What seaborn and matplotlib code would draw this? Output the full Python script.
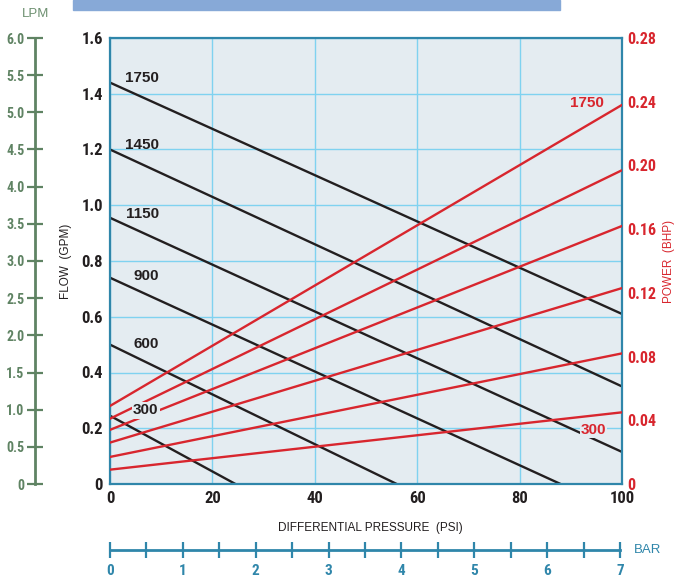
import numpy as np
import pandas as pd
import matplotlib
matplotlib.use("Agg")
import matplotlib.pyplot as plt
import seaborn as sns
from matplotlib.patches import Rectangle
from matplotlib.ticker import MultipleLocator

# pump speeds (RPM)
speeds = [1750, 1450, 1150, 900, 600, 300]

# flow curves: pressure (PSI) and flow (GPM) endpoints
flow_psi = [[0, 100], [0, 100], [0, 100], [0, 88], [0, 56], [0, 24.5]]
flow_gpm = [[1.44, 0.61], [1.20, 0.35], [0.955, 0.115], [0.74, 0.0], [0.50, 0.0], [0.245, 0.0]]

# power curves: BHP at 0 and 100 PSI
power_psi = [0, 100]
power_at_0 = [0.049, 0.041, 0.034, 0.026, 0.017, 0.009]
power_at_100 = [0.238, 0.197, 0.162, 0.123, 0.082, 0.045]

# where the speed labels sit (GPM)
label_gpm = [1.456, 1.216, 0.969, 0.746, 0.502, 0.265]

psi_ticks = [0, 20, 40, 60, 80, 100]
gpm_ticks = [0, 0.2, 0.4, 0.6, 0.8, 1.0, 1.2, 1.4, 1.6]
gpm_labels = ['0', '0.2', '0.4', '0.6', '0.8', '1.0', '1.2', '1.4', '1.6']
bhp_ticks = [0, 0.04, 0.08, 0.12, 0.16, 0.20, 0.24, 0.28]
bhp_labels = ['0', '0.04', '0.08', '0.12', '0.16', '0.20', '0.24', '0.28']
lpm_ticks = [0, 0.5, 1.0, 1.5, 2.0, 2.5, 3.0, 3.5, 4.0, 4.5, 5.0, 5.5, 6.0]
lpm_labels = ['0', '0.5', '1.0', '1.5', '2.0', '2.5', '3.0', '3.5', '4.0', '4.5', '5.0', '5.5', '6.0']
bar_ticks = [0, 1, 2, 3, 4, 5, 6, 7]

RED = '#d8262e'
BLACK = '#231f20'
GREEN = '#5f8363'
TEAL = '#2f86aa'
FACE = '#e4ecf1'
GRID = '#7fd2f0'

sns.set_style("white")
COND = ['Roboto Condensed', 'Liberation Sans Narrow', 'Liberation Sans']
SANS = ['Liberation Sans', 'DejaVu Sans']
plt.rcParams['font.family'] = SANS


def style_ticks(labels, size):
    for lab in labels:
        lab.set_fontfamily(COND)
        lab.set_fontweight('bold')
        lab.set_fontsize(size)


flow_df = pd.DataFrame([
    {'speed': s, 'psi': p, 'gpm': g}
    for s, ps, gs in zip(speeds, flow_psi, flow_gpm)
    for p, g in zip(ps, gs)
])
power_df = pd.DataFrame([
    {'speed': s, 'psi': p, 'bhp': b}
    for s, b0, b1 in zip(speeds, power_at_0, power_at_100)
    for p, b in zip(power_psi, [b0, b1])
])

W, H = 674, 578
fig = plt.figure(figsize=(W / 100, H / 100), dpi=100)

# cropped title band at the top
fig.patches.append(Rectangle((73 / W, 1 - 10 / H), (560 - 73) / W, 10 / H,
                             transform=fig.transFigure, color='#87a9d7', zorder=0))

ax = fig.add_axes([110 / W, 94 / H, 512 / W, 446 / H])
ax.set_facecolor(FACE)
sns.lineplot(data=flow_df, x='psi', y='gpm', units='speed', estimator=None,
             color=BLACK, linewidth=1.7, ax=ax, legend=False)
ax.set_xlim(0, 100)
ax.set_ylim(0, 1.6)
ax.set_xticks(psi_ticks)
ax.set_yticks(gpm_ticks)
ax.set_yticklabels(gpm_labels)
ax.grid(True, color=GRID, linewidth=1.0)
ax.set_axisbelow(True)
ax.tick_params(axis='both', length=0, pad=5, colors=BLACK)
style_ticks(ax.get_xticklabels() + ax.get_yticklabels(), 12)
for sp in ax.spines.values():
    sp.set_color(TEAL)
    sp.set_linewidth(1.6)
ax.set_xlabel('DIFFERENTIAL PRESSURE  (PSI)', fontsize=8.5, color=BLACK)
ax.xaxis.set_label_coords(0.508, -0.085)
ax.set_ylabel('FLOW  (GPM)', fontsize=8.5, color=BLACK)
ax.yaxis.set_label_coords(-0.074, 0.5)

ax2 = ax.twinx()
sns.lineplot(data=power_df, x='psi', y='bhp', units='speed', estimator=None,
             color=RED, linewidth=1.7, ax=ax2, legend=False)
ax2.set_ylim(0, 0.28)
ax2.set_yticks(bhp_ticks)
ax2.set_yticklabels(bhp_labels)
ax2.tick_params(axis='y', length=0, pad=4, colors=RED)
style_ticks(ax2.get_yticklabels(), 11.5)
for sp in ax2.spines.values():
    sp.set_visible(False)
ax2.set_ylabel('POWER  (BHP)', fontsize=8.5, color=RED)
ax2.yaxis.set_label_coords(1.081, 0.5)

# speed labels on flow curves
for s, g in zip(speeds, label_gpm):
    txt = ax2.text(9.5, g, str(s), transform=ax.transData, fontsize=11,
                   fontweight='bold', color=BLACK, ha='right', va='center', zorder=5)
    if s == 300:
        txt.set_bbox(dict(facecolor=FACE, edgecolor='none', pad=1))
ax2.text(96.5, power_at_100[0] + 0.001, str(speeds[0]), fontsize=11, fontweight='bold',
         color=RED, ha='right', va='center')
ax2.text(97, power_at_100[-1] - 0.011, str(speeds[-1]), fontsize=11, fontweight='bold',
         color=RED, ha='right', va='center',
         bbox=dict(facecolor=FACE, edgecolor='none', pad=0.5))

# LPM scale on the far left
axl = fig.add_axes([35 / W, 94 / H, 0.0001, 446 / H])
axl.set_ylim(0, 6)
axl.set_yticks(lpm_ticks)
axl.set_yticklabels(lpm_labels)
axl.set_xticks([])
axl.patch.set_visible(False)
for k, sp in axl.spines.items():
    sp.set_visible(k == 'left')
axl.spines['left'].set_color(GREEN)
axl.spines['left'].set_linewidth(2)
axl.tick_params(axis='y', left=True, direction='inout', length=12, width=1.6,
                color=GREEN, labelcolor=GREEN, pad=1.5)
style_ticks(axl.get_yticklabels(), 10)
fig.text(36 / W, 1 - 14 / H, 'LPM', color='#6d9070', fontsize=9.5, ha='center', va='center')

# BAR scale at the bottom
axb = fig.add_axes([110 / W, 28 / H, 510 / W, 0.0001])
axb.set_xlim(0, 7)
axb.set_xticks(bar_ticks)
axb.xaxis.set_minor_locator(MultipleLocator(0.5))
axb.set_yticks([])
axb.patch.set_visible(False)
for k, sp in axb.spines.items():
    sp.set_visible(k == 'bottom')
axb.spines['bottom'].set_color(TEAL)
axb.spines['bottom'].set_linewidth(2)
axb.tick_params(axis='x', which='both', bottom=True, direction='inout', length=12,
                width=1.6, color=TEAL, labelcolor=TEAL, pad=4)
style_ticks(axb.get_xticklabels(), 11)
fig.text(648 / W, 28 / H, 'BAR', color=TEAL, fontsize=9.5, ha='center', va='center')

fig.savefig('out.png', dpi=100)
